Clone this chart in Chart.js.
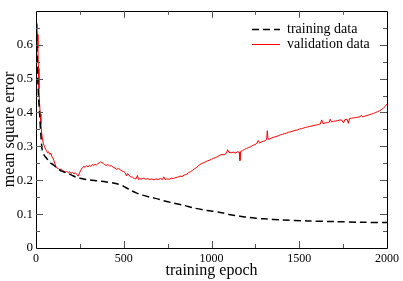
<!DOCTYPE html>
<html>
<head>
<meta charset="utf-8">
<script src="https://cdn.jsdelivr.net/npm/chart.js@4"></script>
<style>
  html, body { margin: 0; padding: 0; background: #fff; }
  #wrap { width: 403px; height: 281px; }
</style>
</head>
<body>
<div id="wrap"><canvas id="chart"></canvas></div>
<script>
// training curve (black dashed)
const trainEpochs = [2, 5, 10, 15, 20, 27, 35, 45, 60, 80, 100, 125, 150, 175, 200, 232, 260, 300, 350, 400,
  440, 470, 500, 536, 575, 600, 650, 700, 725, 780, 850, 900, 974, 1050, 1100, 1162, 1200, 1250, 1300, 1400,
  1544, 1700, 1850, 2000];
const trainError = [0.665, 0.60, 0.50, 0.44, 0.40, 0.34, 0.29, 0.275, 0.265, 0.252, 0.245, 0.234, 0.226, 0.222, 0.216, 0.208, 0.205, 0.201, 0.198, 0.195,
  0.192, 0.188, 0.182, 0.171, 0.162, 0.157, 0.150, 0.144, 0.140, 0.133, 0.125, 0.118, 0.111, 0.105, 0.099, 0.094, 0.091, 0.088, 0.086, 0.083,
  0.080, 0.078, 0.076, 0.075];

// validation curve (red)
const valEpochs = [3, 5, 8, 11, 14, 17, 20, 24, 28, 32, 37, 42, 48, 54, 60, 66, 72, 78, 84, 90,
  96, 102, 108, 114, 120, 128, 136, 144, 152, 160, 168, 176, 184, 192, 200, 208, 216, 224, 232, 240,
  248, 256, 264, 272, 280, 288, 296, 304, 312, 320, 328, 336, 344, 352, 360, 368, 376, 384, 392, 400,
  410, 420, 430, 440, 450, 460, 470, 480, 490, 500, 508, 516, 522, 530, 540, 550, 560, 570, 578, 584,
  592, 600, 612, 624, 636, 648, 660, 672, 684, 696, 708, 720, 728, 736, 748, 760, 772, 784, 796, 808,
  820, 832, 844, 856, 868, 880, 892, 904, 916, 928, 940, 952, 964, 976, 988, 1000, 1012, 1024, 1036, 1048,
  1060, 1072, 1084, 1092, 1100, 1112, 1124, 1136, 1148, 1158, 1162, 1166, 1176, 1188, 1200, 1212, 1224, 1236, 1248, 1258,
  1266, 1274, 1284, 1296, 1306, 1314, 1318, 1322, 1332, 1344, 1356, 1368, 1380, 1392, 1404, 1416, 1428, 1440, 1452, 1464,
  1476, 1488, 1500, 1512, 1524, 1536, 1548, 1560, 1572, 1584, 1596, 1608, 1620, 1628, 1636, 1648, 1660, 1672, 1676, 1684,
  1696, 1708, 1720, 1732, 1744, 1752, 1760, 1772, 1780, 1786, 1798, 1810, 1822, 1834, 1846, 1854, 1862, 1874, 1886, 1898,
  1910, 1922, 1934, 1946, 1958, 1970, 1980, 1990, 2000];
const valError = [0.662, 0.650, 0.630, 0.590, 0.530, 0.470, 0.430, 0.395, 0.365, 0.340, 0.322, 0.308, 0.300, 0.292, 0.287, 0.281, 0.284, 0.276, 0.280, 0.270,
  0.266, 0.258, 0.248, 0.240, 0.236, 0.234, 0.231, 0.233, 0.229, 0.227, 0.224, 0.226, 0.222, 0.225, 0.220, 0.223, 0.219, 0.222, 0.217, 0.212,
  0.222, 0.230, 0.237, 0.241, 0.238, 0.243, 0.239, 0.244, 0.241, 0.246, 0.243, 0.247, 0.245, 0.249, 0.251, 0.254, 0.252, 0.249, 0.246, 0.244,
  0.246, 0.242, 0.243, 0.238, 0.236, 0.232, 0.235, 0.231, 0.227, 0.226, 0.222, 0.213, 0.220, 0.214, 0.210, 0.209, 0.205, 0.204, 0.214, 0.202,
  0.205, 0.203, 0.206, 0.203, 0.205, 0.202, 0.204, 0.201, 0.204, 0.202, 0.205, 0.202, 0.210, 0.202, 0.204, 0.203, 0.206, 0.205, 0.208, 0.209,
  0.212, 0.211, 0.215, 0.217, 0.222, 0.225, 0.229, 0.234, 0.238, 0.244, 0.248, 0.251, 0.254, 0.257, 0.259, 0.262, 0.265, 0.267, 0.270, 0.274,
  0.276, 0.275, 0.279, 0.290, 0.282, 0.281, 0.283, 0.280, 0.284, 0.283, 0.258, 0.285, 0.287, 0.291, 0.294, 0.297, 0.299, 0.303, 0.305, 0.309,
  0.317, 0.310, 0.313, 0.315, 0.317, 0.320, 0.346, 0.321, 0.322, 0.325, 0.327, 0.329, 0.331, 0.334, 0.335, 0.338, 0.339, 0.342, 0.343, 0.345,
  0.347, 0.348, 0.351, 0.352, 0.354, 0.356, 0.357, 0.359, 0.360, 0.362, 0.363, 0.364, 0.366, 0.378, 0.367, 0.369, 0.370, 0.372, 0.380, 0.372,
  0.374, 0.375, 0.376, 0.378, 0.377, 0.369, 0.379, 0.380, 0.368, 0.382, 0.383, 0.384, 0.385, 0.386, 0.387, 0.392, 0.387, 0.389, 0.391, 0.393,
  0.395, 0.397, 0.400, 0.402, 0.405, 0.409, 0.413, 0.418, 0.425];

const xMajorTicks = [0, 500, 1000, 1500, 2000];
const yMajorTicks = [0, 0.1, 0.2, 0.3, 0.4, 0.5, 0.6];

const SERIF = '"Liberation Serif", "DejaVu Serif", serif';

function pairs(xs, ys) {
  return xs.map((x, i) => ({ x: x, y: ys[i] }));
}

// frame with inward ticks on all four sides
const frameTicks = {
  id: 'frameTicks',
  afterDraw(chart) {
    const { ctx, chartArea: a, scales } = chart;
    const xs = scales.x, ys = scales.y;
    ctx.save();
    ctx.strokeStyle = '#000';
    ctx.lineWidth = 1;
    ctx.setLineDash([]);
    ctx.beginPath();
    ctx.rect(Math.round(a.left) + 0.5, Math.round(a.top) + 0.5,
      Math.round(a.right - a.left), Math.round(a.bottom - a.top));
    ctx.stroke();

    ctx.strokeStyle = '#555';
    ctx.beginPath();
    for (let v = 250; v < 2000; v += 250) {
      const len = v % 500 === 0 ? 7 : 4;
      const px = Math.round(xs.getPixelForValue(v)) + 0.5;
      ctx.moveTo(px, a.bottom); ctx.lineTo(px, a.bottom - len);
      ctx.moveTo(px, a.top); ctx.lineTo(px, a.top + len);
    }
    for (let k = 1; k < 14; k++) {
      const v = k * 0.05;
      const len = k % 2 === 0 ? 7 : 4;
      const py = Math.round(ys.getPixelForValue(v)) + 0.5;
      ctx.moveTo(a.left, py); ctx.lineTo(a.left + len, py);
      ctx.moveTo(a.right, py); ctx.lineTo(a.right - len, py);
    }
    ctx.stroke();
    ctx.restore();
  }
};

// legend drawn inside the plot, top right
const innerLegend = {
  id: 'innerLegend',
  afterDraw(chart) {
    const ctx = chart.ctx;
    const rows = [29, 44];
    ctx.save();
    ctx.font = '14px ' + SERIF;
    ctx.textBaseline = 'middle';
    ctx.fillStyle = '#000';
    chart.data.datasets.forEach((ds, i) => {
      const y = rows[i] + 0.5;
      ctx.strokeStyle = ds.borderColor;
      ctx.lineWidth = ds.borderWidth;
      ctx.setLineDash(ds.borderDash || []);
      ctx.beginPath();
      ctx.moveTo(252, y);
      ctx.lineTo(280, y);
      ctx.stroke();
      ctx.fillText(ds.label, 287, rows[i]);
    });
    ctx.restore();
  }
};

new Chart(document.getElementById('chart'), {
  type: 'line',
  data: {
    datasets: [
      {
        label: 'training data',
        data: pairs(trainEpochs, trainError),
        borderColor: '#000',
        borderWidth: 1.5,
        borderDash: [7, 4],
        pointRadius: 0,
        tension: 0.3
      },
      {
        label: 'validation data',
        data: pairs(valEpochs, valError),
        borderColor: '#ff0000',
        borderWidth: 1,
        pointRadius: 0,
        tension: 0
      }
    ]
  },
  options: {
    responsive: true,
    maintainAspectRatio: false,
    animation: false,
    layout: { padding: { top: 3, right: 16, left: 0, bottom: 0 } },
    plugins: {
      legend: { display: false },
      tooltip: { enabled: false }
    },
    scales: {
      x: {
        type: 'linear',
        min: 0,
        max: 2000,
        afterBuildTicks: (scale) => { scale.ticks = xMajorTicks.map(v => ({ value: v })); },
        afterFit: (scale) => { scale.height = 33; },
        grid: { display: false, drawTicks: false },
        border: { display: false },
        ticks: {
          font: { family: SERIF, size: 12 },
          color: '#000',
          padding: 4,
          maxRotation: 0,
          callback: (v) => String(v)
        },
        title: {
          display: true,
          text: 'training epoch',
          font: { family: SERIF, size: 16 },
          color: '#000',
          padding: { top: 0, bottom: 1 }
        }
      },
      y: {
        min: 0,
        max: 0.7,
        afterBuildTicks: (scale) => { scale.ticks = yMajorTicks.map(v => ({ value: v })); },
        afterFit: (scale) => { scale.width = 36; },
        grid: { display: false, drawTicks: false },
        border: { display: false },
        ticks: {
          font: { family: SERIF, size: 13 },
          color: '#000',
          padding: 3,
          callback: (v) => String(v)
        },
        title: {
          display: true,
          text: 'mean square error',
          font: { family: SERIF, size: 16 },
          color: '#000',
          padding: { top: 0, bottom: 0 }
        }
      }
    }
  },
  plugins: [frameTicks, innerLegend]
});
</script>
</body>
</html>
